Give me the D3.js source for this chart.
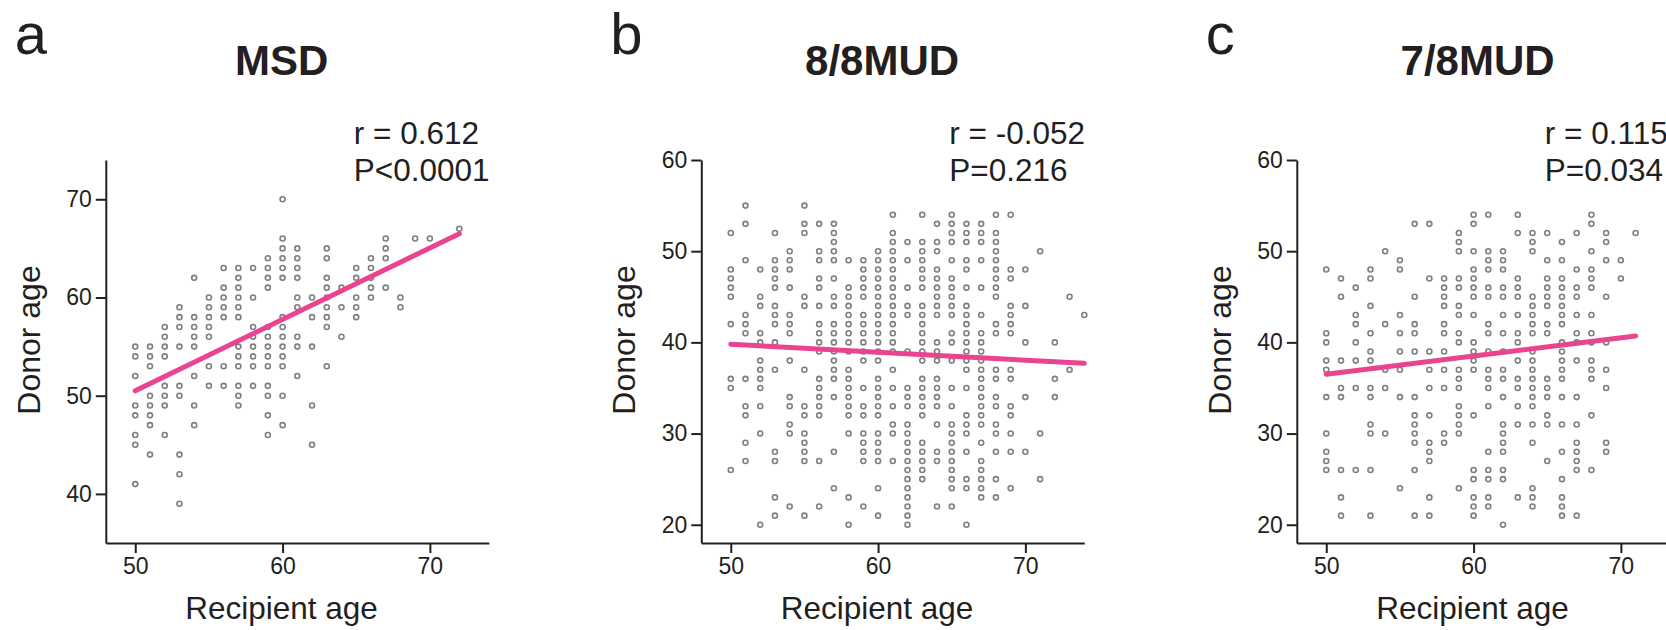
<!DOCTYPE html>
<html>
<head>
<meta charset="utf-8">
<script src="https://cdn.jsdelivr.net/npm/d3@7"></script>
<style>
  body { margin: 0; background: #fff; overflow: hidden; }
  svg { display: block; font-family: "Liberation Sans", Arial, sans-serif; }
</style>
</head>
<body>
<svg id="chart" width="1666" height="630"></svg>
<script>
// donor age values per recipient age column
const msdPoints = [
  [50, [55, 54, 52, 49, 48, 46, 45, 41]],
  [51, [55, 54, 53, 50, 49, 48, 47, 44]],
  [52, [57, 56, 55, 54, 51, 50, 49, 46]],
  [53, [59, 58, 57, 55, 51, 50, 44, 42, 39]],
  [54, [62, 58, 57, 56, 55, 52, 49, 47]],
  [55, [60, 59, 58, 57, 56, 53, 51]],
  [56, [63, 61, 60, 59, 58, 53, 51]],
  [57, [63, 62, 61, 60, 59, 58, 55, 54, 53, 51, 50, 49]],
  [58, [63, 60, 57, 56, 55, 54, 53, 51]],
  [59, [64, 63, 62, 61, 57, 56, 55, 54, 53, 51, 50, 48, 46]],
  [60, [70, 66, 65, 64, 63, 62, 58, 57, 56, 55, 54, 53, 50, 47]],
  [61, [65, 64, 63, 62, 60, 59, 56, 55, 52]],
  [62, [60, 58, 55, 49, 45]],
  [63, [65, 64, 62, 61, 60, 59, 58, 57, 53]],
  [64, [61, 59, 56]],
  [65, [63, 62, 60, 59, 58]],
  [66, [64, 63, 62, 61, 60]],
  [67, [66, 65, 64, 61]],
  [68, [60, 59]],
  [69, [66]],
  [70, [66]],
  [72, [67]]
];

const mud8Points = [
  [50, [52, 48, 47, 46, 45, 42, 36, 35, 26]],
  [51, [55, 53, 49, 43, 42, 41, 36, 33, 32, 29, 27]],
  [52, [48, 45, 44, 41, 40, 38, 37, 36, 35, 33, 30, 20]],
  [53, [52, 49, 48, 47, 46, 44, 43, 42, 40, 37, 28, 27, 23, 21]],
  [54, [50, 49, 48, 46, 43, 42, 41, 38, 34, 33, 31, 30, 22]],
  [55, [55, 53, 52, 45, 44, 37, 33, 32, 30, 29, 28, 27, 21]],
  [56, [53, 50, 49, 47, 46, 44, 42, 41, 40, 39, 36, 35, 34, 33, 32, 27, 22]],
  [57, [53, 52, 51, 50, 49, 47, 45, 44, 42, 41, 40, 39, 38, 37, 36, 34, 28, 24]],
  [58, [49, 46, 45, 44, 43, 42, 41, 40, 39, 37, 36, 35, 34, 33, 32, 30, 23, 20]],
  [59, [49, 48, 47, 46, 45, 43, 42, 41, 40, 39, 38, 35, 33, 32, 30, 29, 28, 27, 22]],
  [60, [50, 49, 48, 47, 46, 45, 44, 43, 42, 41, 40, 39, 38, 36, 35, 34, 33, 32, 30, 29, 28, 27, 24, 21]],
  [61, [54, 52, 51, 50, 49, 48, 47, 46, 45, 44, 43, 42, 41, 40, 39, 37, 35, 33, 31, 30, 27]],
  [62, [51, 49, 46, 44, 43, 39, 35, 34, 33, 31, 30, 29, 28, 27, 26, 25, 24, 23, 22, 21, 20]],
  [63, [54, 51, 50, 49, 48, 47, 46, 44, 43, 42, 41, 40, 39, 38, 36, 35, 34, 33, 32, 29, 28, 27, 26, 25]],
  [64, [53, 51, 50, 48, 47, 46, 45, 44, 43, 40, 39, 38, 36, 35, 34, 33, 31, 28, 27, 22]],
  [65, [54, 53, 52, 51, 49, 47, 46, 45, 44, 43, 41, 40, 38, 35, 33, 31, 30, 29, 28, 27, 26, 25, 24, 22]],
  [66, [53, 52, 51, 49, 48, 46, 44, 43, 42, 41, 40, 39, 38, 37, 35, 32, 31, 30, 28, 25, 24, 20]],
  [67, [53, 52, 51, 49, 46, 43, 41, 40, 39, 38, 37, 36, 35, 34, 33, 32, 31, 29, 27, 26, 25, 24, 23]],
  [68, [54, 52, 51, 50, 49, 48, 47, 46, 45, 42, 41, 37, 36, 34, 33, 31, 30, 28, 25, 23]],
  [69, [54, 48, 47, 44, 43, 42, 41, 37, 36, 33, 32, 30, 28, 24]],
  [70, [48, 44, 40, 34, 28]],
  [71, [50, 30, 25]],
  [72, [40, 36, 34]],
  [73, [45, 37]],
  [74, [43]]
];

const mud7Points = [
  [50, [48, 41, 40, 38, 37, 34, 30, 28, 27, 26]],
  [51, [47, 45, 38, 35, 34, 26, 23, 21]],
  [52, [46, 43, 42, 40, 38, 35, 26]],
  [53, [48, 47, 44, 41, 39, 38, 35, 34, 31, 30, 26, 21]],
  [54, [50, 42, 37, 35, 30]],
  [55, [49, 48, 43, 41, 39, 37, 34, 24]],
  [56, [53, 45, 42, 41, 39, 34, 32, 31, 30, 29, 26, 21]],
  [57, [53, 47, 39, 37, 35, 32, 29, 28, 27, 23, 21]],
  [58, [47, 46, 45, 44, 42, 41, 39, 37, 35, 30, 29]],
  [59, [52, 51, 50, 47, 46, 44, 43, 41, 40, 37, 36, 35, 33, 32, 31, 30, 24]],
  [60, [54, 53, 50, 48, 47, 46, 45, 43, 40, 39, 38, 37, 32, 26, 25, 23, 22, 21]],
  [61, [54, 50, 49, 48, 46, 45, 42, 41, 39, 37, 36, 35, 33, 28, 26, 25, 23, 22]],
  [62, [50, 49, 48, 46, 45, 43, 41, 39, 37, 36, 34, 31, 30, 29, 28, 26, 25, 20]],
  [63, [54, 52, 47, 46, 45, 43, 41, 40, 38, 36, 35, 33, 31, 23]],
  [64, [52, 51, 50, 45, 44, 43, 42, 41, 39, 38, 37, 36, 35, 34, 33, 31, 29, 24, 23, 22]],
  [65, [52, 49, 47, 46, 45, 44, 42, 41, 36, 35, 34, 32, 31, 27]],
  [66, [51, 49, 47, 46, 45, 44, 43, 42, 40, 39, 38, 37, 36, 34, 31, 28, 25, 23, 22, 21]],
  [67, [52, 48, 46, 45, 43, 41, 40, 38, 34, 31, 29, 28, 27, 26, 21]],
  [68, [54, 53, 50, 48, 47, 46, 43, 41, 40, 38, 37, 36, 32, 26]],
  [69, [52, 51, 49, 45, 40, 37, 35, 29, 28]],
  [70, [49, 47]],
  [71, [52]]
];

// regression lines, end points
const msdFit = [[50, 50.5], [72, 66.5]];
const mud8Fit = [[50, 39.8], [74, 37.7]];
const mud7Fit = [[50, 36.5], [71, 40.7]];

const panelLetters = ["a", "b", "c"];
const panelTitles = ["MSD", "8/8MUD", "7/8MUD"];
const panelStats = [["r = 0.612", "P<0.0001"], ["r = -0.052", "P=0.216"], ["r = 0.115", "P=0.034"]];

const xTicks = [50, 60, 70];
const msdYTicks = [40, 50, 60, 70];
const mudYTicks = [20, 30, 40, 50, 60];

const panels = [
  { points: msdPoints, fit: msdFit, yDomain: [35, 74], yTicks: msdYTicks },
  { points: mud8Points, fit: mud8Fit, yDomain: [18, 60], yTicks: mudYTicks },
  { points: mud7Points, fit: mud7Fit, yDomain: [18, 60], yTicks: mudYTicks }
];

const ink = "#231f20";
const svg = d3.select("#chart");

const plotW = 383, plotH = 383;
const plotTop = 160;
const step = 595.5;

panels.forEach((p, i) => {
  const left = 105.8 + i * step;
  const g = svg.append("g").attr("transform", `translate(${left},${plotTop})`);

  const x = d3.scaleLinear().domain([48, 74]).range([0, plotW]);
  const y = d3.scaleLinear().domain(p.yDomain).range([plotH, 0]);

  const flat = p.points.flatMap(([rx, ys]) => ys.map(dy => ({ rx, dy })));

  g.selectAll("circle.pt")
    .data(flat)
    .enter()
    .append("circle")
    .attr("class", "pt")
    .attr("cx", d => x(d.rx))
    .attr("cy", d => y(d.dy))
    .attr("r", 2.5)
    .attr("fill", "none")
    .attr("stroke", "#7f7f7f")
    .attr("stroke-width", 1.6);

  const line = d3.line().x(d => x(d[0])).y(d => y(d[1]));
  g.append("path")
    .datum(p.fit)
    .attr("d", line)
    .attr("fill", "none")
    .attr("stroke", "#ea4390")
    .attr("stroke-width", 5)
    .attr("stroke-linecap", "round");

  const xAxis = g.append("g")
    .attr("transform", `translate(0,${plotH})`)
    .call(d3.axisBottom(x).tickValues(xTicks).tickSize(10).tickSizeOuter(0).tickPadding(5));
  const yAxis = g.append("g")
    .call(d3.axisLeft(y).tickValues(p.yTicks).tickSize(10).tickSizeOuter(0).tickPadding(4));

  [xAxis, yAxis].forEach(a => {
    a.select(".domain").attr("stroke", ink).attr("stroke-width", 2);
    a.selectAll(".tick line").attr("stroke", ink).attr("stroke-width", 2);
    a.selectAll(".tick text")
      .attr("fill", ink)
      .style("font-size", "23px")
      .style("font-family", "'Liberation Sans', Arial, sans-serif");
  });

  // axis titles
  g.append("text")
    .attr("x", x(60) - 1)
    .attr("y", 619 - plotTop)
    .attr("text-anchor", "middle")
    .attr("fill", ink)
    .style("font-size", "31.5px")
    .text("Recipient age");

  g.append("text")
    .attr("transform", `translate(-66,${340 - plotTop}) rotate(-90)`)
    .attr("text-anchor", "middle")
    .attr("fill", ink)
    .style("font-size", "32px")
    .text("Donor age");

  // panel title and letter
  svg.append("text")
    .attr("x", left + x(60) + (i === 0 ? -1 : 4))
    .attr("y", 75)
    .attr("text-anchor", "middle")
    .attr("fill", ink)
    .style("font-size", "42px")
    .style("font-weight", "bold")
    .text(panelTitles[i]);

  svg.append("text")
    .attr("x", left - 91)
    .attr("y", 54)
    .attr("fill", ink)
    .style("font-size", "58px")
    .text(panelLetters[i]);

  // correlation stats
  panelStats[i].forEach((s, k) => {
    svg.append("text")
      .attr("x", left + 248)
      .attr("y", 143.5 + k * 37)
      .attr("fill", ink)
      .style("font-size", "31.5px")
      .text(s);
  });
});
</script>
</body>
</html>
